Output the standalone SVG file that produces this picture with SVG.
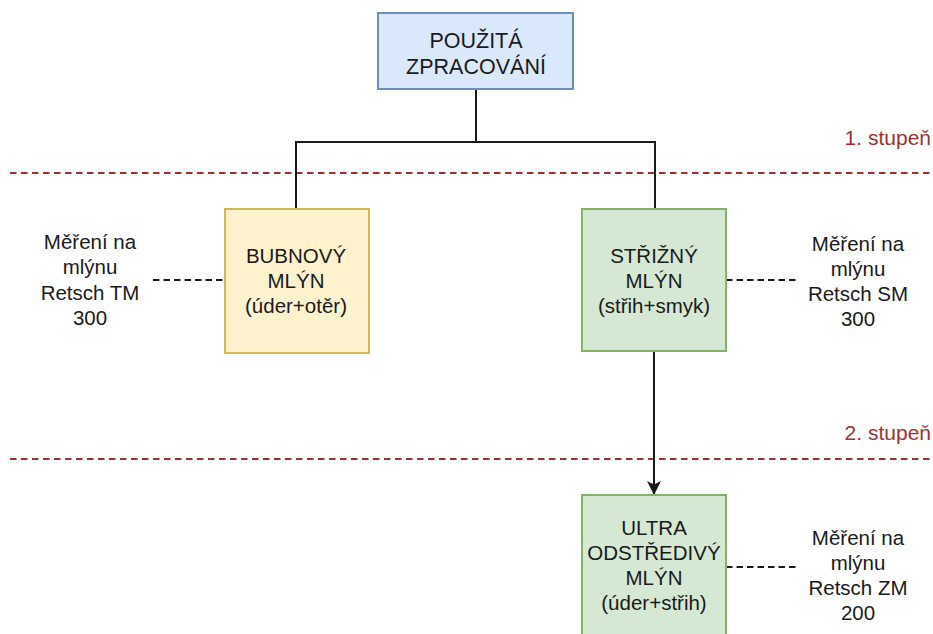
<svg xmlns="http://www.w3.org/2000/svg" width="933" height="634" viewBox="0 0 933 634">
  <defs>
    <style>
      text { font-family: "Liberation Sans", Arial, sans-serif; font-size: 20.5px; fill: #1a1a1a; text-anchor: middle; }
      .title { font-size: 21.5px; }
      .stage { fill: #a0302f; text-anchor: end; font-size: 21px; }
      .blue { fill: #dae8fc; stroke: #6c8ebf; stroke-width: 2; }
      .yellow { fill: #fff2cc; stroke: #d6b656; stroke-width: 2; }
      .green { fill: #d5e8d4; stroke: #82b366; stroke-width: 2; }
      .edge { fill: none; stroke: #1a1a1a; stroke-width: 2; }
      .level { stroke: #a0302f; stroke-width: 2; stroke-dasharray: 6.5 4.5; }
      .link { stroke: #1a1a1a; stroke-width: 2; stroke-dasharray: 6.5 4; }
    </style>
    <marker id="arrow" viewBox="0 0 14 14" refX="14" refY="7" markerWidth="14" markerHeight="14" markerUnits="userSpaceOnUse" orient="auto">
      <path d="M0,0 L14,7 L0,14 L3.5,7 Z" fill="#1a1a1a"/>
    </marker>
  </defs>

  <rect width="933" height="634" fill="#ffffff"/>

  <!-- stage separators -->
  <g id="stages">
    <line class="level" x1="10" y1="173" x2="933" y2="173"/>
    <text class="stage" x="931" y="145">1. stupeň</text>
    <line class="level" x1="10" y1="459" x2="933" y2="459"/>
    <text class="stage" x="931" y="440">2. stupeň</text>
  </g>

  <!-- connectors -->
  <g id="connectors">
    <path class="edge" d="M476,89 V142 H296 V209"/>
    <path class="edge" d="M476,142 H655 V209"/>
    <path class="edge" d="M654,351 V495" marker-end="url(#arrow)"/>
    <line class="link" x1="153" y1="280" x2="225" y2="280"/>
    <line class="link" x1="726" y1="280" x2="797" y2="280"/>
    <line class="link" x1="726" y1="567" x2="797" y2="567"/>
  </g>

  <g id="node-source">
    <rect class="blue" x="378" y="13" width="195" height="76"/>
    <text class="title" x="476" y="48">POUŽITÁ</text>
    <text class="title" x="476" y="74">ZPRACOVÁNÍ</text>
  </g>

  <g id="node-drum">
    <rect class="yellow" x="225" y="209" width="144" height="144"/>
    <text x="296" y="263">BUBNOVÝ</text>
    <text x="296" y="288">MLÝN</text>
    <text x="296" y="313">(úder+otěr)</text>
  </g>

  <g id="node-cutting">
    <rect class="green" x="582" y="209" width="144" height="142"/>
    <text x="654" y="263">STŘIŽNÝ</text>
    <text x="654" y="288">MLÝN</text>
    <text x="654" y="313">(střih+smyk)</text>
  </g>

  <g id="node-centrifugal">
    <rect class="green" x="582" y="495" width="144" height="144"/>
    <text x="654" y="535">ULTRA</text>
    <text x="654" y="560">ODSTŘEDIVÝ</text>
    <text x="654" y="585">MLÝN</text>
    <text x="654" y="610">(úder+střih)</text>
  </g>

  <g id="label-tm">
    <text x="90" y="249">Měření na</text>
    <text x="90" y="274">mlýnu</text>
    <text x="90" y="300">Retsch TM</text>
    <text x="90" y="325">300</text>
  </g>

  <g id="label-sm">
    <text x="858" y="251">Měření na</text>
    <text x="858" y="276">mlýnu</text>
    <text x="858" y="301">Retsch SM</text>
    <text x="858" y="326">300</text>
  </g>

  <g id="label-zm">
    <text x="858" y="545">Měření na</text>
    <text x="858" y="570">mlýnu</text>
    <text x="858" y="595">Retsch ZM</text>
    <text x="858" y="620">200</text>
  </g>
</svg>
